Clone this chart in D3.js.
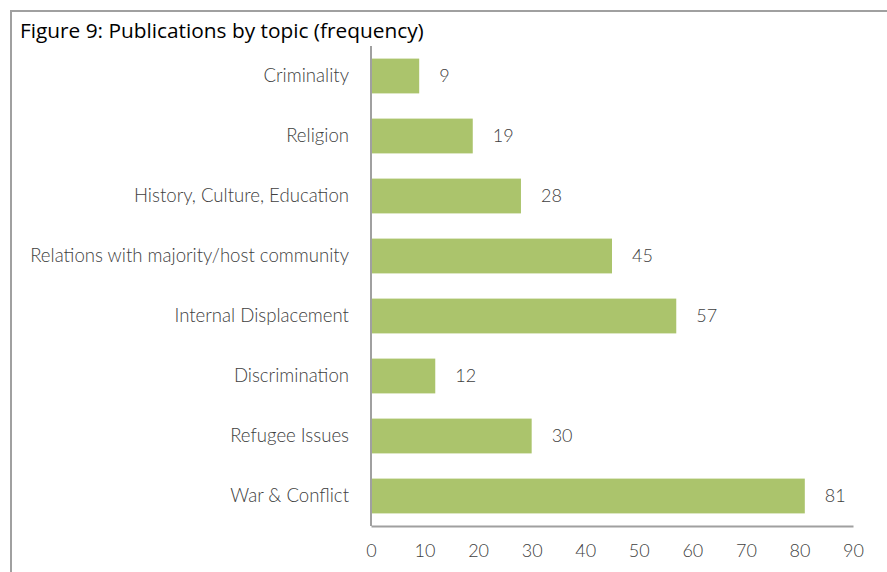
<!DOCTYPE html>
<html>
<head>
<meta charset="utf-8">
<script src="https://cdn.jsdelivr.net/npm/d3@7"></script>
<style>
  html, body { margin: 0; padding: 0; background: #fff; }
  svg { display: block; }
</style>
</head>
<body>
<svg id="chart" width="887" height="572"></svg>
<script>
// Topics, top to bottom, and their publication counts
const topics = [
  "Criminality",
  "Religion",
  "History, Culture, Education",
  "Relations with majority/host community",
  "Internal Displacement",
  "Discrimination",
  "Refugee Issues",
  "War & Conflict"
];
const counts = [9, 19, 28, 45, 57, 12, 30, 81];
const xTicks = [0, 10, 20, 30, 40, 50, 60, 70, 80, 90];
const title = "Figure 9: Publications by topic (frequency)";

const svg = d3.select("#chart");
const font = "Lato, 'Open Sans', sans-serif";

// Frame around the figure
svg.append("path")
  .attr("d", "M11,572 V11 H887")
  .attr("fill", "none")
  .attr("stroke", "#a0a0a0")
  .attr("stroke-width", 2);

// Title, sized to span its box width
const titleText = svg.append("text")
  .attr("x", 20)
  .attr("y", 38)
  .attr("font-family", "'Open Sans', sans-serif")
  .attr("font-weight", 400)
  .attr("font-size", 20)
  .attr("fill", "#000")
  .text(title);
const tw = titleText.node().getComputedTextLength();
titleText.attr("font-size", 20 * 404 / tw);

const x = d3.scaleLinear().domain([0, 90]).range([371, 853]);
const y = d3.scaleBand().domain(topics).range([46, 526]).paddingInner(0.42).paddingOuter(0.21);

// Bars
svg.append("g").selectAll("rect")
  .data(topics)
  .join("rect")
  .attr("x", x(0))
  .attr("y", d => y(d))
  .attr("width", (d, i) => x(counts[i]) - x(0))
  .attr("height", y.bandwidth())
  .attr("fill", "#abc46c");

// Value labels
svg.append("g").selectAll("text")
  .data(topics)
  .join("text")
  .attr("x", (d, i) => x(counts[i]) + 20)
  .attr("y", d => y(d) + y.bandwidth() / 2)
  .attr("dy", "0.35em")
  .attr("font-family", font)
  .attr("font-weight", 300)
  .attr("font-size", 18)
  .attr("fill", "#404040")
  .text((d, i) => counts[i]);

// Category axis
const yAxis = svg.append("g")
  .attr("transform", `translate(${x(0)},0)`)
  .call(d3.axisLeft(y).tickSize(0).tickPadding(22));
yAxis.select(".domain").attr("stroke", "#a0a0a0").attr("stroke-width", 2)
  .attr("d", "M0,46V526");
yAxis.selectAll("text")
  .attr("font-family", font)
  .attr("font-weight", 300)
  .attr("font-size", 18.6)
  .attr("fill", "#404040");

// Value axis
const xAxis = svg.append("g")
  .attr("transform", "translate(0,526)")
  .call(d3.axisBottom(x).tickValues(xTicks).tickSize(0).tickPadding(18));
xAxis.select(".domain").attr("stroke", "#a0a0a0").attr("stroke-width", 2);
xAxis.selectAll("text")
  .attr("font-family", font)
  .attr("font-weight", 300)
  .attr("font-size", 18)
  .attr("fill", "#404040");
</script>
</body>
</html>
